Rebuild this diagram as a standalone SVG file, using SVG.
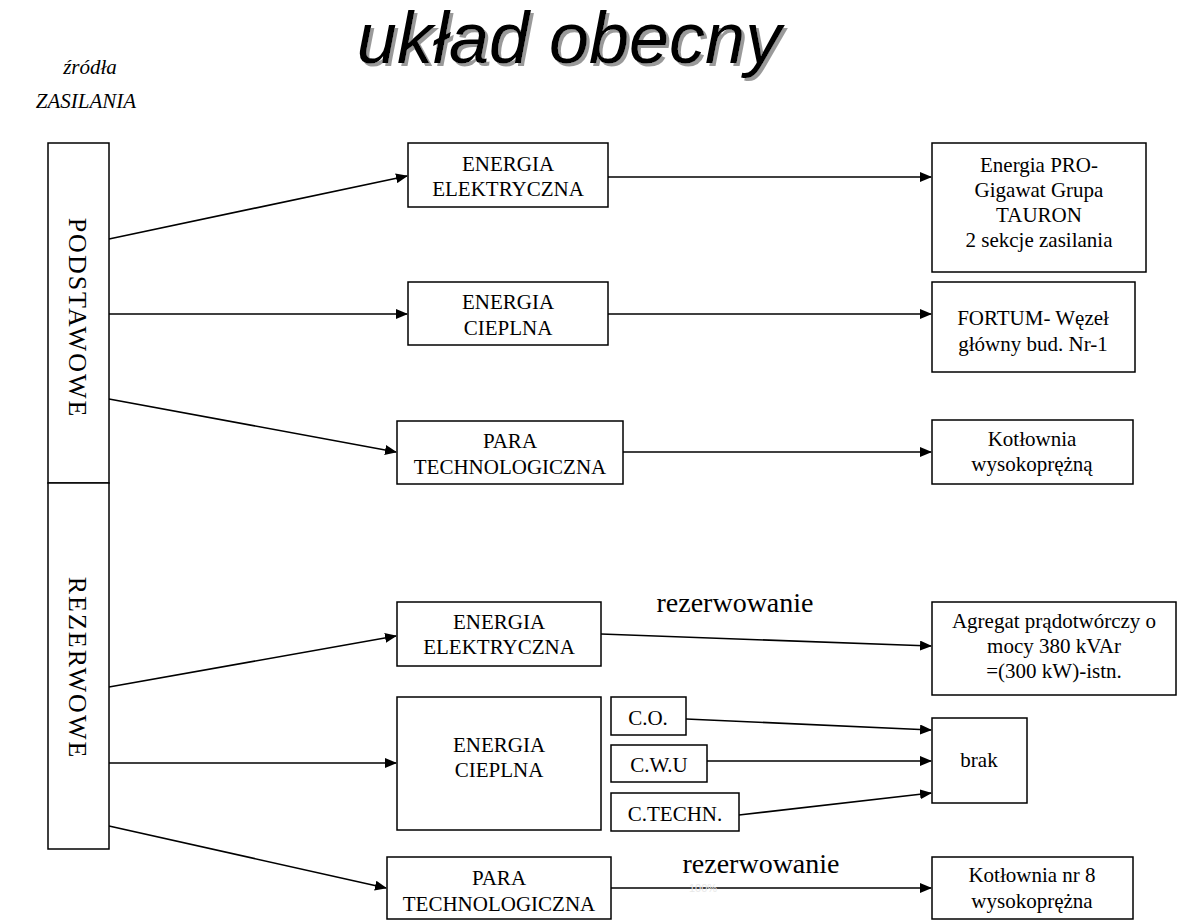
<svg xmlns="http://www.w3.org/2000/svg" width="1182" height="921" viewBox="0 0 1182 921">
<defs>
<marker id="arr" markerWidth="12" markerHeight="10" refX="11" refY="5" orient="auto" markerUnits="userSpaceOnUse">
<path d="M0,0 L12,5 L0,10 Z" fill="#000"/>
</marker>
<filter id="shadow" x="-5%" y="-10%" width="115%" height="130%">
<feDropShadow dx="3" dy="3" stdDeviation="0.6" flood-color="#9a9a9a" flood-opacity="1"/>
</filter>
<style>
.box{fill:#fff;stroke:#000;stroke-width:1.5}
.t{font-family:"Liberation Serif","Times New Roman",serif;font-size:21px;fill:#000;text-anchor:middle}
.c{stroke:#000;stroke-width:1.6;fill:none;marker-end:url(#arr)}
.lbl{font-family:"Liberation Serif","Times New Roman",serif;font-size:28px;fill:#000;text-anchor:middle}
.vt{font-family:"Liberation Serif","Times New Roman",serif;font-size:26px;letter-spacing:2px;fill:#000;text-anchor:middle}
.it{font-family:"Liberation Serif","Times New Roman",serif;font-style:italic;font-size:21px;fill:#000;text-anchor:middle}
</style>
</defs>
<rect width="1182" height="921" fill="#fff"/>
<g id="title">
<text x="569" y="63" font-family="'Liberation Sans',Arial,sans-serif" font-style="italic" font-size="72" fill="#000" text-anchor="middle" filter="url(#shadow)">układ obecny</text>
</g>
<g id="zrodla">
<text class="it" x="90" y="74">źródła</text>
<text class="it" x="86" y="108">ZASILANIA</text>
</g>
<g id="connectors">
<line class="c" x1="109" y1="239" x2="407" y2="176"/>
<line class="c" x1="109" y1="314" x2="407" y2="314"/>
<line class="c" x1="109" y1="399" x2="396" y2="452"/>
<line class="c" x1="109" y1="687" x2="396" y2="636"/>
<line class="c" x1="109" y1="763" x2="396" y2="763"/>
<line class="c" x1="109" y1="826" x2="386" y2="888"/>
<line class="c" x1="608" y1="177" x2="931" y2="177"/>
<line class="c" x1="608" y1="314" x2="931" y2="314"/>
<line class="c" x1="623" y1="452" x2="931" y2="452"/>
<line class="c" x1="601" y1="634" x2="931" y2="646"/>
<line class="c" x1="686" y1="719" x2="931" y2="730"/>
<line class="c" x1="707" y1="761" x2="931" y2="761"/>
<line class="c" x1="739" y1="815" x2="931" y2="793"/>
<line class="c" x1="611" y1="888" x2="931" y2="888"/>
</g>
<g id="podstawowe">
<rect class="box" x="48" y="143" width="61" height="340"/>
<text class="vt" transform="translate(69,318) rotate(90)">PODSTAWOWE</text>
</g>
<g id="rezerwowe">
<rect class="box" x="48" y="483" width="61" height="366"/>
<text class="vt" transform="translate(69,668) rotate(90)">REZERWOWE</text>
</g>
<g id="ee1">
<rect class="box" x="408" y="143" width="200" height="64"/>
<text class="t" x="508" y="171">ENERGIA</text>
<text class="t" x="508" y="196">ELEKTRYCZNA</text>
</g>
<g id="ec1">
<rect class="box" x="408" y="282" width="200" height="63"/>
<text class="t" x="508" y="309">ENERGIA</text>
<text class="t" x="508" y="335">CIEPLNA</text>
</g>
<g id="pt1">
<rect class="box" x="397" y="421" width="226" height="63"/>
<text class="t" x="510" y="448">PARA</text>
<text class="t" x="510" y="474">TECHNOLOGICZNA</text>
</g>
<g id="ee2">
<rect class="box" x="397" y="602" width="204" height="64"/>
<text class="t" x="499" y="629">ENERGIA</text>
<text class="t" x="499" y="654">ELEKTRYCZNA</text>
</g>
<g id="ec2">
<rect class="box" x="397" y="697" width="204" height="133"/>
<text class="t" x="499" y="752">ENERGIA</text>
<text class="t" x="499" y="777">CIEPLNA</text>
</g>
<g id="co">
<rect class="box" x="611" y="697" width="75" height="38"/>
<text class="t" x="648" y="725">C.O.</text>
</g>
<g id="cwu">
<rect class="box" x="611" y="745" width="96" height="37"/>
<text class="t" x="659" y="772">C.W.U</text>
</g>
<g id="ctechn">
<rect class="box" x="611" y="793" width="128" height="38"/>
<text class="t" x="675" y="821">C.TECHN.</text>
</g>
<g id="pt2">
<rect class="box" x="387" y="857" width="224" height="62"/>
<text class="t" x="499" y="885">PARA</text>
<text class="t" x="499" y="911">TECHNOLOGICZNA</text>
</g>
<g id="pro">
<rect class="box" x="932" y="143" width="214" height="129"/>
<text class="t" x="1039" y="172">Energia PRO-</text>
<text class="t" x="1039" y="197">Gigawat Grupa</text>
<text class="t" x="1039" y="222">TAURON</text>
<text class="t" x="1039" y="247">2 sekcje zasilania</text>
</g>
<g id="fortum">
<rect class="box" x="932" y="282" width="203" height="90"/>
<text class="t" x="1033" y="325">FORTUM- Węzeł</text>
<text class="t" x="1033" y="351">główny bud. Nr-1</text>
</g>
<g id="kot1">
<rect class="box" x="932" y="420" width="201" height="64"/>
<text class="t" x="1032" y="446">Kotłownia</text>
<text class="t" x="1032" y="471">wysokoprężną</text>
</g>
<g id="agregat">
<rect class="box" x="932" y="602" width="244" height="93"/>
<text class="t" x="1054" y="628">Agregat prądotwórczy o</text>
<text class="t" x="1054" y="653">mocy 380 kVAr</text>
<text class="t" x="1054" y="678">=(300 kW)-istn.</text>
</g>
<g id="brak">
<rect class="box" x="932" y="718" width="95" height="85"/>
<text class="t" x="979" y="767">brak</text>
</g>
<g id="kot8">
<rect class="box" x="932" y="857" width="201" height="62"/>
<text class="t" x="1032" y="882">Kotłownia nr 8</text>
<text class="t" x="1032" y="908">wysokoprężna</text>
</g>
<g id="labels">
<text class="lbl" x="735" y="612">rezerwowanie</text>
<text class="lbl" x="761" y="873">rezerwowanie</text>
<text x="703" y="892" font-family="'Liberation Sans',sans-serif" font-size="11" fill="#e8e8e8" text-anchor="middle">100%</text>
</g>
</svg>
